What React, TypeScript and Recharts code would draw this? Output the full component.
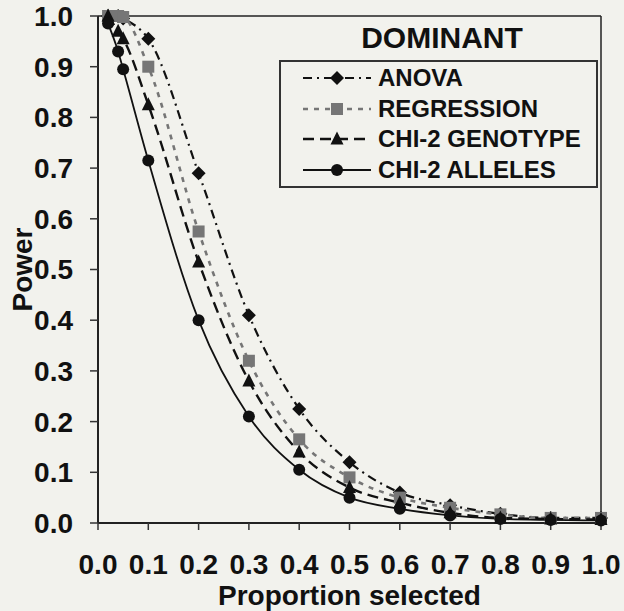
import {
  Label,
  Legend,
  Line,
  LineChart,
  ReferenceLine,
  XAxis,
  YAxis,
} from 'recharts'

const proportion = [0.02, 0.04, 0.05, 0.1, 0.2, 0.3, 0.4, 0.5, 0.6, 0.7, 0.8, 0.9, 1.0]
const anova = [1.0, 1.0, 0.995, 0.955, 0.69, 0.41, 0.225, 0.12, 0.06, 0.035, 0.018, 0.01, 0.01]
const regression = [1.0, 1.0, 0.998, 0.9, 0.575, 0.32, 0.165, 0.09, 0.05, 0.03, 0.017, 0.01, 0.01]
const chiGenotype = [1.0, 0.97, 0.955, 0.825, 0.515, 0.28, 0.14, 0.07, 0.04, 0.02, 0.01, 0.008, 0.007]
const chiAlleles = [0.985, 0.93, 0.895, 0.715, 0.4, 0.21, 0.105, 0.05, 0.028, 0.015, 0.008, 0.006, 0.005]
const axisTicks = [0, 0.1, 0.2, 0.3, 0.4, 0.5, 0.6, 0.7, 0.8, 0.9, 1.0]

const FONT = '"Liberation Sans", Arial, sans-serif'
const INK = '#111'
const GREY = '#767676'
const BG = '#f2f2ed'

type Shape = 'diamond' | 'square' | 'triangle' | 'circle'

const series: Array<{
  key: string
  name: string
  color: string
  dash?: string
  width: number
  shape: Shape
}> = [
  { key: 'anova', name: 'ANOVA', color: INK, dash: '9 5 2 5', width: 2.2, shape: 'diamond' },
  { key: 'regression', name: 'REGRESSION', color: GREY, dash: '5 6', width: 2.6, shape: 'square' },
  { key: 'chiGenotype', name: 'CHI-2 GENOTYPE', color: INK, dash: '11 6', width: 2.4, shape: 'triangle' },
  { key: 'chiAlleles', name: 'CHI-2 ALLELES', color: INK, width: 1.8, shape: 'circle' },
]

const data = proportion.map((p, i) => ({
  p,
  anova: anova[i],
  regression: regression[i],
  chiGenotype: chiGenotype[i],
  chiAlleles: chiAlleles[i],
}))

function Marker({ cx, cy, shape, color }: { cx: number; cy: number; shape: Shape; color: string }) {
  if (shape === 'diamond')
    return <polygon points={`${cx},${cy - 7} ${cx + 7},${cy} ${cx},${cy + 7} ${cx - 7},${cy}`} fill={color} />
  if (shape === 'square') return <rect x={cx - 6} y={cy - 6} width={12} height={12} fill={color} />
  if (shape === 'triangle')
    return <polygon points={`${cx},${cy - 7.5} ${cx + 6.5},${cy + 5.5} ${cx - 6.5},${cy + 5.5}`} fill={color} />
  return <circle cx={cx} cy={cy} r={6} fill={color} />
}

function LegendBox() {
  return (
    <div style={{ fontFamily: FONT, fontWeight: 700, color: INK }}>
      <div style={{ textAlign: 'center', fontSize: 30, lineHeight: '40px', marginLeft: 6, height: 42 }}>
        DOMINANT
      </div>
      <div
        style={{
          border: `2px solid #333`,
          width: 319,
          height: 128,
          boxSizing: 'border-box',
          paddingTop: 1,
        }}
      >
        {series.map((s) => (
          <div key={s.key} style={{ display: 'flex', alignItems: 'center', height: 30.6 }}>
            <svg width={94} height={24} style={{ flex: 'none' }}>
              <line
                x1={22}
                x2={90}
                y1={12}
                y2={12}
                stroke={s.color}
                strokeWidth={s.width}
                strokeDasharray={s.dash}
              />
              <Marker cx={56} cy={12} shape={s.shape} color={s.color} />
            </svg>
            <span style={{ fontSize: 24, marginLeft: 3, whiteSpace: 'nowrap' }}>{s.name}</span>
          </div>
        ))}
      </div>
    </div>
  )
}

export default function App() {
  const tickStyle = { fill: INK, fontSize: 28, fontWeight: 700, fontFamily: FONT }
  return (
    <div style={{ position: 'absolute', left: 0, top: 0, width: 624, height: 611, background: BG }}>
      <LineChart width={624} height={611} data={data} margin={{ top: 16, right: 23, left: 8, bottom: 0 }}>
        <XAxis
          dataKey="p"
          type="number"
          domain={[0, 1]}
          ticks={axisTicks}
          interval={0}
          tickFormatter={(v: number) => v.toFixed(1)}
          tick={tickStyle}
          tickSize={7}
          tickMargin={24}
          height={88}
          axisLine={{ stroke: '#222', strokeWidth: 2 }}
          tickLine={{ stroke: '#333', strokeWidth: 1.5 }}
        >
          <Label
            content={({ viewBox }: any) => (
              <text
                x={viewBox.x + viewBox.width / 2}
                y={viewBox.y + 82}
                textAnchor="middle"
                fill={INK}
                fontSize={28}
                fontWeight={700}
                fontFamily={FONT}
              >
                Proportion selected
              </text>
            )}
          />
        </XAxis>
        <YAxis
          type="number"
          domain={[0, 1]}
          ticks={axisTicks}
          interval={0}
          tickFormatter={(v: number) => v.toFixed(1)}
          tick={tickStyle}
          tickSize={8}
          tickMargin={17}
          width={90}
          axisLine={{ stroke: '#222', strokeWidth: 2 }}
          tickLine={{ stroke: '#333', strokeWidth: 1.5 }}
        >
          <Label
            content={({ viewBox }: any) => {
              const x = viewBox.x + 14
              const y = viewBox.y + viewBox.height / 2
              return (
                <text
                  x={x}
                  y={y}
                  transform={`rotate(-90 ${x} ${y})`}
                  textAnchor="middle"
                  dominantBaseline="central"
                  fill={INK}
                  fontSize={28}
                  fontWeight={700}
                  fontFamily={FONT}
                >
                  Power
                </text>
              )
            }}
          />
        </YAxis>
        <ReferenceLine y={1} stroke="#222" strokeWidth={1.5} />
        <ReferenceLine x={1} stroke="#222" strokeWidth={1.5} />
        {series.map((s) => (
          <Line
            key={s.key}
            dataKey={s.key}
            name={s.name}
            type="monotone"
            stroke={s.color}
            strokeWidth={s.width}
            strokeDasharray={s.dash}
            isAnimationActive={false}
            dot={(props: any) => (
              <Marker key={`${s.key}-${props.index}`} cx={props.cx} cy={props.cy} shape={s.shape} color={s.color} />
            )}
            activeDot={false}
          />
        ))}
        <Legend
          layout="horizontal"
          verticalAlign="middle"
          align="center"
          wrapperStyle={{ left: 279, top: 18, width: 320 }}
          content={() => <LegendBox />}
        />
      </LineChart>
    </div>
  )
}
